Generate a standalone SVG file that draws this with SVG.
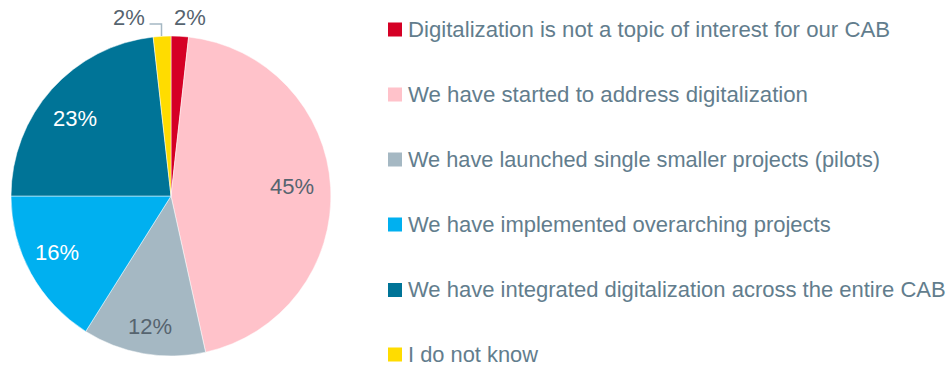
<svg xmlns="http://www.w3.org/2000/svg" width="949" height="366" viewBox="0 0 949 366">
<style>
.lg{font-family:"Liberation Sans",Arial,sans-serif;font-size:22px;fill:#627D8D}
.pl{font-family:"Liberation Sans",Arial,sans-serif;font-size:22px;fill:#56646F}
.pw{font-family:"Liberation Sans",Arial,sans-serif;font-size:22px;fill:#FFFFFF}
.sl{stroke:#FFFFFF;stroke-width:0.5}
</style>
<rect width="949" height="366" fill="#FFFFFF"/>
<g id="pie">
<path id="s-red" class="sl" fill="#D50025" d="M171,196 L171,36 A160,160 0 0 1 188.6,37.0 Z"/>
<path id="s-pink" class="sl" fill="#FFC2CA" d="M171,196 L188.6,37.0 A160,160 0 0 1 205.6,352.2 Z"/>
<path id="s-grey" class="sl" fill="#A5B8C3" d="M171,196 L205.6,352.2 A160,160 0 0 1 85.7,331.4 Z"/>
<path id="s-blue" class="sl" fill="#00B0F0" d="M171,196 L85.7,331.4 A160,160 0 0 1 11,196 Z"/>
<path id="s-teal" class="sl" fill="#007497" d="M171,196 L11,196 A160,160 0 0 1 153.2,37.0 Z"/>
<path id="s-yellow" class="sl" fill="#FFDC00" d="M171,196 L153.2,37.0 A160,160 0 0 1 171,36 Z"/>
</g>
<g id="connectors">
<polyline points="149.5,24 161.5,24 161.5,36" fill="none" stroke="#A5B8C3" stroke-width="1.5"/>
</g>
<g id="pie-labels">
<text class="pl" x="113" y="25">2%</text>
<text class="pl" x="174" y="25">2%</text>
<text class="pl" x="270" y="194">45%</text>
<text class="pl" x="128" y="334">12%</text>
<text class="pw" x="35" y="260">16%</text>
<text class="pw" x="53" y="126">23%</text>
</g>
<g id="legend-1"><rect x="388" y="22.5" width="14" height="14" fill="#D50025"/><text class="lg" x="408" y="36.5" textLength="482" lengthAdjust="spacingAndGlyphs">Digitalization is not a topic of interest for our CAB</text></g>
<g id="legend-2"><rect x="388" y="87.5" width="14" height="14" fill="#FFC2CA"/><text class="lg" x="408" y="101.5" textLength="400" lengthAdjust="spacingAndGlyphs">We have started to address digitalization</text></g>
<g id="legend-3"><rect x="388" y="152.5" width="14" height="14" fill="#A5B8C3"/><text class="lg" x="408" y="166.5" textLength="472" lengthAdjust="spacingAndGlyphs">We have launched single smaller projects (pilots)</text></g>
<g id="legend-4"><rect x="388" y="217.5" width="14" height="14" fill="#00B0F0"/><text class="lg" x="408" y="231.5">We have implemented overarching projects</text></g>
<g id="legend-5"><rect x="388" y="283" width="14" height="14" fill="#007497"/><text class="lg" x="408" y="297">We have integrated digitalization across the entire CAB</text></g>
<g id="legend-6"><rect x="388" y="347.5" width="14" height="14" fill="#FFDC00"/><text class="lg" x="408" y="361.5" textLength="130" lengthAdjust="spacingAndGlyphs">I do not know</text></g>
</svg>
